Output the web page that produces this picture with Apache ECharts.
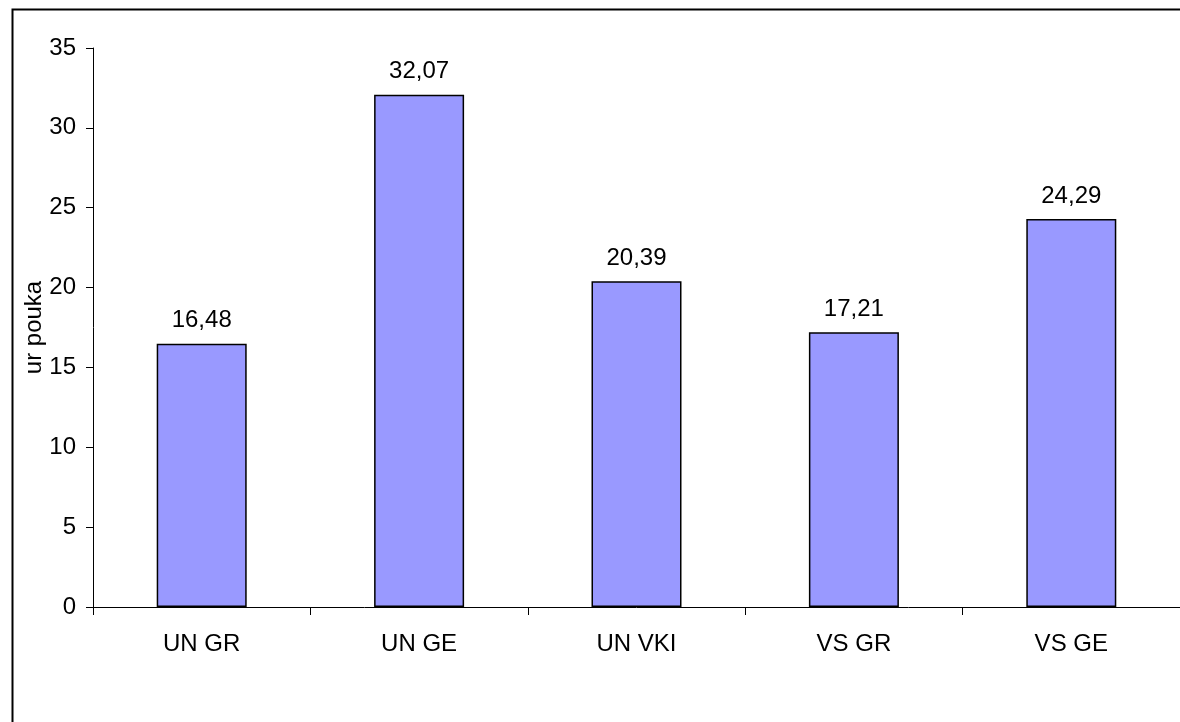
<!DOCTYPE html>
<html>
<head>
<meta charset="utf-8">
<script src="https://cdn.jsdelivr.net/npm/echarts@6/dist/echarts.min.js"></script>
<style>html,body{margin:0;padding:0;background:#fff;}#c{width:1180px;height:722px;}</style>
</head>
<body>
<div id="c"></div>
<script>
const categories = ['UN GR', 'UN GE', 'UN VKI', 'VS GR', 'VS GE'];
const values = [16.48, 32.07, 20.39, 17.21, 24.29];
const yTicks = [0, 5, 10, 15, 20, 25, 30, 35];
const yAxisName = 'ur pouka';

const chart = echarts.init(document.getElementById('c'), null, {renderer: 'canvas'});
const FONT = 'Liberation Sans, Arial, sans-serif';
chart.setOption({
  animation: false,
  backgroundColor: '#fff',
  graphic: [{
    type: 'rect', z: -1,
    shape: {x: 12.5, y: 9.5, width: 1300, height: 900},
    style: {fill: 'none', stroke: '#000', lineWidth: 2}
  }],
  grid: {left: 93, top: 48, right: -6, bottom: 115, containLabel: false},
  xAxis: {
    type: 'category',
    data: categories,
    axisLine: {lineStyle: {color: '#000', width: 1}},
    axisTick: {show: true, length: 8, inside: false, lineStyle: {color: '#000'}},
    axisLabel: {color: '#000', fontSize: 24, fontFamily: FONT, margin: 25}
  },
  yAxis: {
    type: 'value',
    min: yTicks[0], max: yTicks[yTicks.length - 1], interval: 5,
    name: yAxisName,
    nameLocation: 'middle',
    nameGap: 47,
    nameMoveOverlap: false,
    nameTextStyle: {color: '#000', fontSize: 24, fontFamily: FONT},
    axisLine: {show: true, lineStyle: {color: '#000', width: 1}},
    axisTick: {show: true, length: 7, lineStyle: {color: '#000'}},
    axisLabel: {color: '#000', fontSize: 24, fontFamily: FONT, margin: 17},
    splitLine: {show: false}
  },
  series: [{
    type: 'bar',
    data: values,
    barWidth: 90,
    itemStyle: {color: '#9999ff', borderColor: '#000', borderWidth: 1.5},
    label: {
      show: true, position: 'top', distance: 11,
      color: '#000', fontSize: 24, fontFamily: FONT,
      formatter: p => p.value.toFixed(2).replace('.', ',')
    }
  }]
});
</script>
</body>
</html>
